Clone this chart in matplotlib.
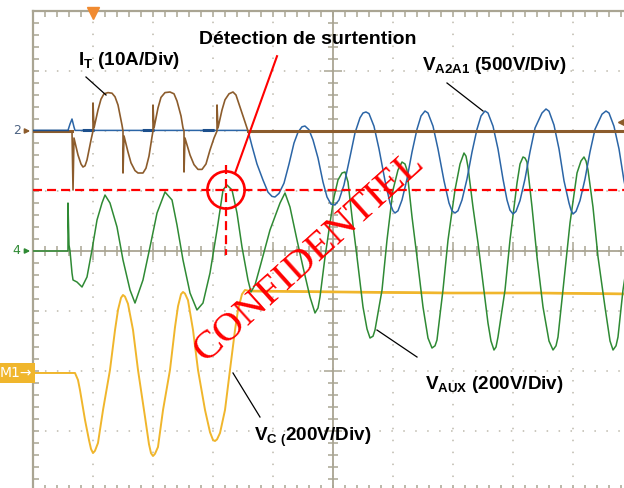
import matplotlib
matplotlib.use("Agg")
import matplotlib.pyplot as plt
from matplotlib.ticker import MultipleLocator
from matplotlib.patches import Circle

plt.rcParams['mathtext.fontset'] = 'custom'
plt.rcParams['mathtext.bf'] = 'Liberation Sans:bold'
plt.rcParams['mathtext.rm'] = 'Liberation Sans'
plt.rcParams['lines.scale_dashes'] = False

## all values are in screen divisions (10 div wide, 8 div high, center = 0)

## I_T (ch2, brown) read point by point off the capture
it_t = [0.0, 0.650, 0.667, 0.683, 0.750, 0.800, 0.833, 0.867, 0.900, 0.967, 1.000, 1.000,
        1.017, 1.083, 1.133, 1.183, 1.250, 1.317, 1.367, 1.417, 1.483, 1.500, 1.500, 1.517,
        1.583, 1.633, 1.700, 1.750, 1.833, 1.883, 1.933, 1.983, 2.000, 2.000, 2.017, 2.083,
        2.133, 2.200, 2.283, 2.350, 2.400, 2.467, 2.500, 2.517, 2.517, 2.533, 2.617, 2.683,
        2.750, 2.817, 2.883, 2.950, 3.017, 3.067, 3.067, 3.083, 3.150, 3.200, 3.267, 3.333,
        3.383, 3.433, 3.500, 3.583, 10.0]
it_v = [2.0, 2.0, 1.017, 1.883, 1.600, 1.450, 1.400, 1.420, 1.517, 1.850, 2.0, 2.467,
        2.050, 2.350, 2.530, 2.620, 2.640, 2.630, 2.570, 2.433, 2.100, 2.0, 1.300, 1.917,
        1.650, 1.470, 1.340, 1.300, 1.300, 1.380, 1.580, 1.900, 2.0, 2.433, 2.050, 2.383,
        2.560, 2.640, 2.650, 2.620, 2.500, 2.250, 2.050, 2.0, 1.317, 1.883, 1.600, 1.440,
        1.360, 1.360, 1.450, 1.683, 1.883, 2.0, 2.433, 2.050, 2.350, 2.520, 2.620, 2.650,
        2.600, 2.450, 2.250, 2.0, 2.0]

## V_A2A1 (blue)
va_t = [0.0, 0.583, 0.617, 0.650, 0.683, 0.700, 3.583,
        3.65, 3.733, 3.833, 3.917, 3.983, 4.033, 4.1, 4.183, 4.267, 4.35, 4.417, 4.483,
        4.533, 4.6, 4.667, 4.75, 4.833, 4.9, 4.967, 5.033, 5.1, 5.183, 5.283, 5.367,
        5.45, 5.5, 5.55, 5.6, 5.683, 5.767, 5.867, 5.95, 6.0, 6.033,
        6.083, 6.15, 6.233, 6.317, 6.4, 6.467, 6.533, 6.583, 6.667, 6.75, 6.85, 6.933, 6.983, 7.033,
        7.083, 7.15, 7.233, 7.317, 7.4, 7.467, 7.533, 7.583, 7.667, 7.75, 7.833, 7.9, 7.95, 8.0,
        8.05, 8.117, 8.2, 8.283, 8.367, 8.483, 8.55, 8.6, 8.683, 8.767, 8.85, 8.933, 8.967, 9.0,
        9.05, 9.117, 9.2, 9.283, 9.367, 9.483, 9.55, 9.6, 9.683, 9.767, 9.85, 9.933, 9.967, 10.0]
va_v = [2.01, 2.01, 2.117, 2.200, 2.067, 2.01, 2.01,
        1.75, 1.45, 1.183, 0.98, 0.91, 0.9, 0.96, 1.13, 1.45, 1.8, 1.98, 2.07,
        2.083, 2.02, 1.85, 1.55, 1.15, 0.9, 0.78, 0.767, 0.85, 1.1, 1.567, 1.97,
        2.22, 2.3, 2.317, 2.29, 2.08, 1.7, 1.17, 0.8, 0.67, 0.633,
        0.67, 0.85, 1.2, 1.65, 2.03, 2.25, 2.333, 2.3, 2.08, 1.7, 1.17, 0.8, 0.67, 0.633,
        0.67, 0.85, 1.2, 1.65, 2.03, 2.25, 2.333, 2.3, 2.08, 1.7, 1.2, 0.85, 0.68, 0.617,
        0.66, 0.84, 1.2, 1.65, 2.05, 2.3, 2.367, 2.33, 2.1, 1.7, 1.17, 0.8, 0.68, 0.617,
        0.66, 0.84, 1.2, 1.65, 2.03, 2.28, 2.333, 2.3, 2.08, 1.7, 1.17, 0.8, 0.68, 0.633]

## V_AUX (ch4, green)
vx_t = [0.0, 0.583, 0.583, 0.600, 0.617, 0.650, 0.667, 0.733, 0.817, 0.900, 0.983, 1.067,
        1.150, 1.200, 1.283, 1.400, 1.500, 1.617, 1.700, 1.833, 1.950, 2.067, 2.200, 2.317,
        2.400, 2.500, 2.617, 2.733, 2.833, 2.950, 3.067, 3.167, 3.233, 3.317, 3.400, 3.483,
        3.583, 3.633, 3.700, 3.783, 3.950, 4.117, 4.200, 4.283, 4.400, 4.500, 4.617, 4.700,
        4.75, 4.783, 4.867, 4.95, 5.017, 5.083, 5.15, 5.2, 5.25, 5.317, 5.4, 5.5, 5.567,
        5.617, 5.667, 5.7, 5.817, 5.9, 6.0, 6.083, 6.15, 6.2, 6.233, 6.317, 6.4, 6.5, 6.583,
        6.65, 6.7, 6.733, 6.833, 6.917, 7.033, 7.117, 7.183, 7.217, 7.25, 7.333, 7.417, 7.5,
        7.583, 7.633, 7.683, 7.717, 7.75, 7.867, 7.95, 8.067, 8.117, 8.167, 8.2, 8.233, 8.317,
        8.4, 8.5, 8.6, 8.667, 8.717, 8.75, 8.833, 8.95, 9.067, 9.133, 9.183, 9.217, 9.25,
        9.333, 9.417, 9.533, 9.617, 9.667, 9.717, 9.75, 9.833, 10.0]
vx_v = [0.0, 0.0, 0.800, 0.100, 0.0, -0.367, -0.483, -0.517, -0.600, -0.433, 0.017, 0.517,
        0.800, 0.933, 0.800, 0.400, -0.150, -0.650, -0.867, -0.483, 0.067, 0.633, 0.983, 0.850,
        0.433, -0.150, -0.700, -0.983, -0.867, -0.367, 0.350, 1.017, 1.100, 1.017, 0.633, 0.067,
        -0.483, -0.683, -0.567, -0.267, 0.350, 0.800, 0.967, 0.733, 0.183, -0.267, -0.767, -1.033,
        -0.95, -0.767, -0.1, 0.467, 0.9, 1.183, 1.3, 1.317, 1.15, 0.567, -0.1, -0.933, -1.3,
        -1.45, -1.42, -1.317, -0.65, 0.183, 1.017, 1.35, 1.483, 1.45, 1.35, 0.567, -0.1, -0.933, -1.45,
        -1.617, -1.58, -1.483, -0.65, 0.183, 1.017, 1.45, 1.633, 1.58, 1.4, 0.733, 0.133, -0.533,
        -1.2, -1.5, -1.65, -1.6, -1.433, -0.65, 0.183, 1.133, 1.45, 1.567, 1.55, 1.483, 0.733,
        -0.1, -0.933, -1.5, -1.65, -1.58, -1.433, -0.65, 0.467, 1.3, 1.5, 1.567, 1.5, 1.35,
        0.733, -0.1, -0.933, -1.5, -1.65, -1.58, -1.433, -0.65, 0.433]

## V_C (math channel M1, orange)
vc_t = [0.0, 0.700, 0.750, 0.783, 0.867, 0.933, 0.967, 1.000, 1.033, 1.083, 1.167, 1.283,
        1.367, 1.417, 1.467, 1.500, 1.533, 1.583, 1.667, 1.750, 1.867, 1.933, 1.967, 2.000,
        2.033, 2.083, 2.167, 2.283, 2.367, 2.417, 2.467, 2.500, 2.533, 2.583, 2.667, 2.750,
        2.867, 2.950, 3.000, 3.033, 3.067, 3.117, 3.200, 3.283, 3.367, 3.417, 3.483, 3.533,
        3.617, 5.117, 6.950, 8.450, 10.0]
vc_v = [-2.033, -2.033, -2.150, -2.317, -2.817, -3.150, -3.300, -3.367, -3.330, -3.200, -2.650, -1.983,
        -1.317, -0.980, -0.780, -0.733, -0.760, -0.880, -1.317, -1.983, -2.767, -3.220, -3.370, -3.417,
        -3.380, -3.267, -2.650, -1.983, -1.267, -0.920, -0.720, -0.683, -0.710, -0.820, -1.317, -1.983,
        -2.650, -3.020, -3.150, -3.167, -3.140, -3.033, -2.650, -1.983, -1.317, -0.980, -0.720, -0.650,
        -0.667, -0.683, -0.700, -0.700, -0.717]

## channel reference levels and markers
ch2_level = 2.0
ch4_level = 0.0
m1_level = -2.033
trig_t = 1.0
detect_level = 1.017     # overvoltage threshold
detect_t = 3.217         # detection instant

BROWN = '#8c5c2c'
BLUE = '#2b65a6'
DARKBLUE = '#1d4f8c'
GREEN = '#2f8a34'
ORANGE = '#f0b62c'
RED = '#ff0000'
GRID = '#aaa593'
DOTS = '#bdb9ac'

fig = plt.figure(figsize=(6.24, 4.88), dpi=100)
pos = [33/624, -3/488, 600/624, 480/488]

## graticule frame with dotted division lines
fr = fig.add_axes(pos, zorder=0)
fr.set_xlim(0, 10)
fr.set_ylim(-4, 4)
fr.xaxis.set_major_locator(MultipleLocator(1))
fr.xaxis.set_minor_locator(MultipleLocator(0.2))
fr.yaxis.set_major_locator(MultipleLocator(1))
fr.yaxis.set_minor_locator(MultipleLocator(0.2))
fr.tick_params(which='both', direction='in', length=4.5, width=1.1, color=GRID,
               top=True, right=True, labelbottom=False, labelleft=False)
fr.grid(True, which='major', color=DOTS, lw=1.1, linestyle=(0, (1.1, 7.5)))
for s in fr.spines.values():
    s.set_color(GRID)
    s.set_linewidth(1.6)

## data axes with the center cross
ax = fig.add_axes(pos, zorder=1)
ax.patch.set_visible(False)
ax.set_xlim(0, 10)
ax.set_ylim(-4, 4)
ax.spines['left'].set_position(('data', 5))
ax.spines['bottom'].set_position(('data', 0))
ax.spines['top'].set_visible(False)
ax.spines['right'].set_visible(False)
for s in ['left', 'bottom']:
    ax.spines[s].set_color(GRID)
    ax.spines[s].set_linewidth(1.3)
ax.xaxis.set_major_locator(MultipleLocator(1))
ax.xaxis.set_minor_locator(MultipleLocator(0.2))
ax.yaxis.set_major_locator(MultipleLocator(1))
ax.yaxis.set_minor_locator(MultipleLocator(0.2))
ax.tick_params(which='major', direction='inout', length=13, width=1.1, color=GRID,
               labelbottom=False, labelleft=False)
ax.tick_params(which='minor', direction='inout', length=7.5, width=1.1, color=GRID)

## traces
ax.plot(vc_t, vc_v, color=ORANGE, lw=1.4, zorder=3)
ax.plot(vc_t[-5:], vc_v[-5:], color=ORANGE, lw=1.9, zorder=3)
ax.plot(vx_t, vx_v, color=GREEN, lw=1.1, zorder=4)
ax.plot(va_t, va_v, color=BLUE, lw=1.1, zorder=5)
ax.plot(va_t[5:7], va_v[5:7], color=DARKBLUE, lw=2.2, zorder=5,
        linestyle=(38, (8.6, 34.6)))
ax.plot(it_t, it_v, color=BROWN, lw=1.2, zorder=6)
ax.plot(it_t[:2], it_v[:2], color=BROWN, lw=2.2, zorder=6)
ax.plot(it_t[-2:], it_v[-2:], color=BROWN, lw=2.2, zorder=6)
ax.plot(va_t[:2], va_v[:2], color=DARKBLUE, lw=1.0, zorder=6)

## overvoltage detection marks
ax.axhline(detect_level, color=RED, lw=1.6, linestyle=(0, (6.5, 3.6)), zorder=7)
ax.plot([detect_t, detect_t], [detect_level + 0.42, detect_level - 1.08], color=RED,
        lw=1.6, linestyle=(0, (6.5, 3.6)), zorder=7)
ax.add_patch(Circle((detect_t, detect_level), 0.31, fill=False, ec=RED, lw=1.9, zorder=7))
ax.plot([detect_t + 0.15, detect_t + 0.85], [detect_level + 0.28, detect_level + 2.23],
        color=RED, lw=1.5, zorder=7)
ax.text(4.58, 3.52, 'Détection de surtention', ha='center', va='center',
        fontsize=14, fontweight='bold', family='Liberation Sans', zorder=8)

## trace labels
lab = dict(fontsize=13.6, fontweight='bold', family='Liberation Sans', va='center', zorder=8)
ax.text(0.75, 3.18, r'$\mathbf{I_T}$ (10A/Div)', ha='left', **lab)
ax.plot([0.883, 1.217], [2.9, 2.6], color='black', lw=0.9, zorder=8)
ax.text(6.48, 3.1, r'$\mathbf{V_{A2A1}}$ (500V/Div)', ha='left', **lab)
ax.plot([6.9, 7.5], [2.8, 2.333], color='black', lw=0.9, zorder=8)
ax.text(6.53, -2.22, r'$\mathbf{V_{AUX}}$ (200V/Div)', ha='left', **lab)
ax.plot([5.733, 6.4], [-1.317, -1.767], color='black', lw=0.9, zorder=8)
ax.text(3.68, -3.1, r'$\mathbf{V_{C\ (}}$200V/Div)', ha='left', **lab)
ax.plot([3.333, 3.783], [-2.033, -2.767], color='black', lw=0.9, zorder=8)

ax.text(4.6, -0.09, 'CONFIDENTIEL', color=RED, fontsize=29.5, family='Liberation Serif',
        rotation=42, ha='center', va='center', rotation_mode='anchor', zorder=9)

## channel markers
ax.text(-0.27, ch2_level, '2', color='#4d6383', fontsize=9, ha='center', va='center')
ax.annotate('', xy=(0, ch2_level), xytext=(-0.18, ch2_level), annotation_clip=False,
            arrowprops=dict(arrowstyle='-|>', color=BROWN, lw=1.2, mutation_scale=7))
ax.text(-0.27, ch4_level, '4', color=GREEN, fontsize=9, ha='center', va='center')
ax.annotate('', xy=(0, ch4_level), xytext=(-0.18, ch4_level), annotation_clip=False,
            arrowprops=dict(arrowstyle='-|>', color=GREEN, lw=1.2, mutation_scale=7))
ax.text(-0.01, m1_level, 'M1\u2192', color='white', fontsize=10, ha='right', va='center',
        family='DejaVu Sans',
        bbox=dict(boxstyle='square,pad=0.2', fc=ORANGE, ec='none'))
ax.plot([trig_t], [3.96], marker='v', ms=9, color='#f08a30', clip_on=False, zorder=9)
ax.plot([9.8], [2.15], marker='<', ms=5, color=BROWN, clip_on=False, zorder=9)

fig.savefig('out.png', dpi=100)
